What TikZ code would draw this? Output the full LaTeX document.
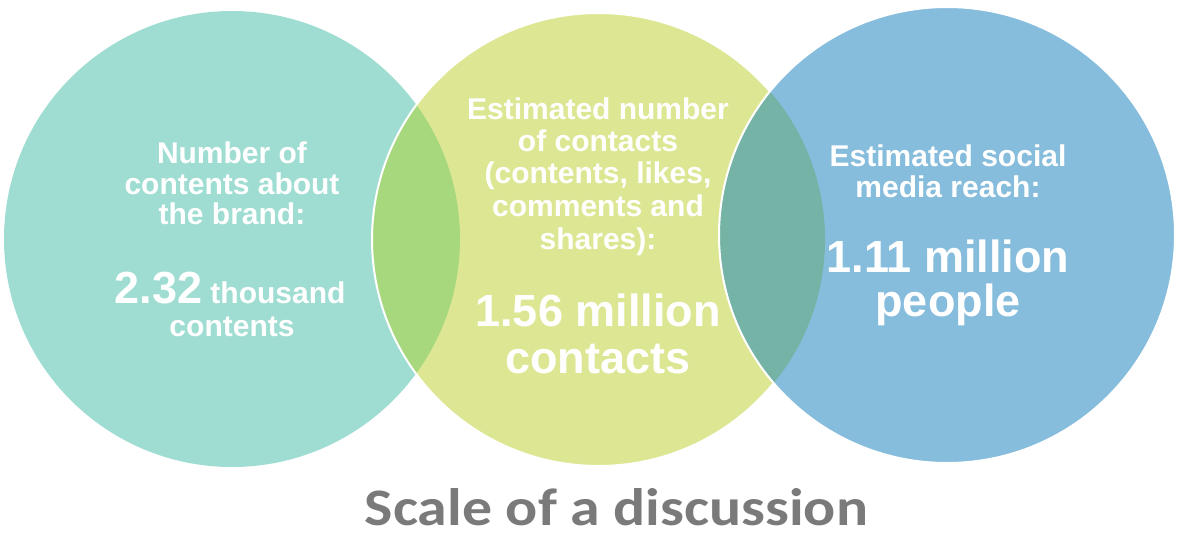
\documentclass[tikz,border=0pt]{standalone}
\usepackage{fontspec}
\setmainfont{Liberation Sans}
\newfontfamily\titlefont{Carlito}
\definecolor{cteal}{HTML}{9FDDD2}
\definecolor{cgreen}{HTML}{DDE793}
\definecolor{clensA}{HTML}{A8D87E}
\definecolor{cblue}{HTML}{86BDDC}
\definecolor{clensB}{HTML}{74B3A5}
\definecolor{ctitle}{HTML}{7A7A7A}
\tikzset{
  small/.style={text=white, font=\bfseries\fontsize{30}{32}\selectfont, anchor=base, inner sep=0pt},
  big/.style={text=white, font=\bfseries\fontsize{45}{48}\selectfont, anchor=base, inner sep=0pt},
  ring/.style={draw=white, line width=2pt}
}
\begin{document}
\begin{tikzpicture}[x=1pt,y=-1pt]
\useasboundingbox (0,0) rectangle (1177,539);
\coordinate (cA) at (232,239);
\coordinate (cB) at (598.5,239.5);
\coordinate (cC) at (947,235);
% left circle
\fill[cteal] (cA) circle [radius=228pt];
% middle circle
\fill[cgreen] (cB) circle [radius=226.5pt];
\begin{scope}
  \clip (cA) circle [radius=228pt];
  \fill[clensA] (cB) circle [radius=226.5pt];
\end{scope}
\draw[ring] (cB) circle [radius=226.5pt];
% right circle
\fill[cblue] (cC) circle [radius=228pt];
\begin{scope}
  \clip (cB) circle [radius=226.5pt];
  \fill[clensB] (cC) circle [radius=228pt];
\end{scope}
\draw[ring] (cC) circle [radius=228pt];
% left texts
\node[small] (a1) at (232,163) {Number of};
\node[small] (a2) at (232,194) {contents about};
\node[small] (a3) at (232,224) {the brand:};
\node[small] (a4) at (230,303) {{\fontsize{45}{48}\selectfont 2.32} thousand};
\node[small] (a5) at (232,336) {contents};
% middle texts
\node[small] (b1) at (598,119) {Estimated number};
\node[small] (b2) at (598,151) {of contacts};
\node[small] (b3) at (598,183) {(contents, likes,};
\node[small] (b4) at (598,216) {comments and};
\node[small] (b5) at (598,249) {shares):};
\node[big] (b6) at (598,326) {1.56 million};
\node[big] (b7) at (598,373) {contacts};
% right texts
\node[small] (c1) at (948,166) {Estimated social};
\node[small] (c2) at (948,197) {media reach:};
\node[big] (c3) at (948,272) {1.11 million};
\node[big] (c4) at (948,316) {people};
% title
\node[anchor=base, inner sep=0pt, text=ctitle] (t) at (616.5,525)
  {\resizebox{503pt}{37pt}{\titlefont\bfseries Scale of a discussion}};
\end{tikzpicture}
\end{document}
